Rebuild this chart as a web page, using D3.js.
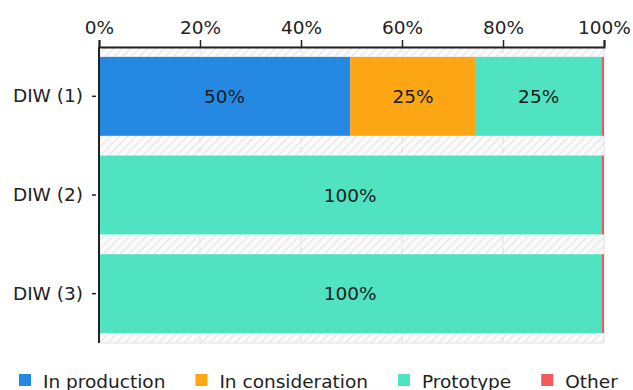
<!DOCTYPE html>
<html>
<head>
<meta charset="utf-8">
<script src="https://cdn.jsdelivr.net/npm/d3@7"></script>
<style>
  html, body { margin: 0; padding: 0; background: #fff; }
  svg { display: block; font-family: "DejaVu Sans", Verdana, sans-serif; }
</style>
</head>
<body>
<svg id="chart" width="633" height="390"></svg>
<script>
// Stacked 100% bar chart data
const categories = ["DIW (1)", "DIW (2)", "DIW (3)"];
const seriesNames = ["In production", "In consideration", "Prototype", "Other"];
const inProduction = [50, 0, 0];
const inConsideration = [25, 0, 0];
const prototype = [25, 100, 100];
const other = [0.5, 0.5, 0.5];
const tickValues = [0, 0.2, 0.4, 0.6, 0.8, 1];
const colors = ["#2589e4", "#fda614", "#50e3c2", "#f25a5a"];

const FS = 18.5;
const seriesValues = [inProduction, inConsideration, prototype, other];
const rows = categories.map((c, i) => {
  const r = { category: c };
  seriesNames.forEach((s, k) => { r[s] = seriesValues[k][i]; });
  return r;
});

const svg = d3.select("#chart");
const margin = { left: 99, right: 29, top: 47, bottom: 47 };
const W = 633, H = 390;
const x = d3.scaleLinear().domain([0, 1]).range([margin.left, W - margin.right]);
const y = d3.scaleBand().domain(categories).range([margin.top, H - margin.bottom])
  .paddingInner(0.2).paddingOuter(0.1);
const color = d3.scaleOrdinal().domain(seriesNames).range(colors);

// hatched plot background
const defs = svg.append("defs");
const pat = defs.append("pattern").attr("id", "hatch").attr("patternUnits", "userSpaceOnUse")
  .attr("width", 6).attr("height", 6).attr("patternTransform", "rotate(45)");
pat.append("rect").attr("width", 6).attr("height", 6).attr("fill", "#fbfbfb");
pat.append("line").attr("x1", 0).attr("y1", 0).attr("x2", 0).attr("y2", 6)
  .attr("stroke", "#e6e6e6").attr("stroke-width", 2.5);

svg.append("rect")
  .attr("x", x(0)).attr("y", margin.top)
  .attr("width", x(1) - x(0)).attr("height", H - margin.bottom - margin.top)
  .attr("fill", "url(#hatch)")
  .attr("stroke", "#e2e2e2").attr("stroke-width", 1);

// vertical grid lines
svg.append("g").selectAll("line").data(tickValues.slice(1, -1)).join("line")
  .attr("x1", d => x(d)).attr("x2", d => x(d))
  .attr("y1", margin.top).attr("y2", H - margin.bottom)
  .attr("stroke", "#dddddd").attr("stroke-dasharray", "6,4").attr("stroke-width", 1);

// stacked, normalized bars
const stack = d3.stack().keys(seriesNames).offset(d3.stackOffsetExpand);
const stacked = stack(rows);

const layers = svg.append("g").selectAll("g").data(stacked).join("g")
  .attr("fill", d => color(d.key));
layers.selectAll("rect").data(d => d).join("rect")
  .attr("x", d => x(d[0]))
  .attr("y", d => y(d.data.category))
  .attr("width", d => Math.max(0, x(d[1]) - x(d[0])))
  .attr("height", y.bandwidth());

// value labels
const labels = [];
stacked.forEach(layer => {
  if (layer.key === "Other") return;
  layer.forEach(d => {
    const v = d[1] - d[0];
    if (v > 0.05) labels.push({ x: (x(d[0]) + x(d[1])) / 2, cat: d.data.category, text: Math.round(v * 100) + "%" });
  });
});
svg.append("g").selectAll("text").data(labels).join("text")
  .attr("x", d => d.x)
  .attr("y", d => y(d.cat) + y.bandwidth() / 2)
  .attr("text-anchor", "middle").attr("dominant-baseline", "central")
  .attr("font-size", FS).attr("fill", "#1a1a1a")
  .text(d => d.text);

// top axis
const xAxis = svg.append("g").attr("transform", `translate(0,${margin.top})`)
  .call(d3.axisTop(x).tickValues(tickValues).tickFormat(d3.format(".0%")).tickSize(7).tickPadding(6));
xAxis.select(".domain").attr("stroke", "#222").attr("stroke-width", 2);
xAxis.selectAll(".tick line").attr("stroke", "#222").attr("stroke-width", 1.5);
xAxis.selectAll(".tick text").attr("font-size", FS).attr("fill", "#222")
  .attr("font-family", "DejaVu Sans, Verdana, sans-serif");

// left axis
const yAxis = svg.append("g").attr("transform", `translate(${margin.left},0)`)
  .call(d3.axisLeft(y).tickSize(0).tickPadding(16));
yAxis.select(".domain").remove();
yAxis.selectAll(".tick text").attr("font-size", FS).attr("fill", "#222")
  .attr("font-family", "DejaVu Sans, Verdana, sans-serif");
yAxis.selectAll(".tick").append("line")
  .attr("x1", -7).attr("x2", -3).attr("stroke", "#222").attr("stroke-width", 1.5);
svg.append("line")
  .attr("x1", x(0)).attr("x2", x(0))
  .attr("y1", margin.top).attr("y2", H - margin.bottom)
  .attr("stroke", "#222").attr("stroke-width", 2);

// legend
const legend = svg.append("g").attr("transform", "translate(19,374)");
let lx = 0;
seriesNames.forEach(name => {
  const g = legend.append("g").attr("transform", `translate(${lx},0)`);
  g.append("rect").attr("width", 12).attr("height", 12).attr("fill", color(name));
  const t = g.append("text").attr("x", 24).attr("y", 14)
    .attr("font-size", FS).attr("fill", "#222").text(name);
  lx += 24 + t.node().getComputedTextLength() + 30;
});
</script>
</body>
</html>
